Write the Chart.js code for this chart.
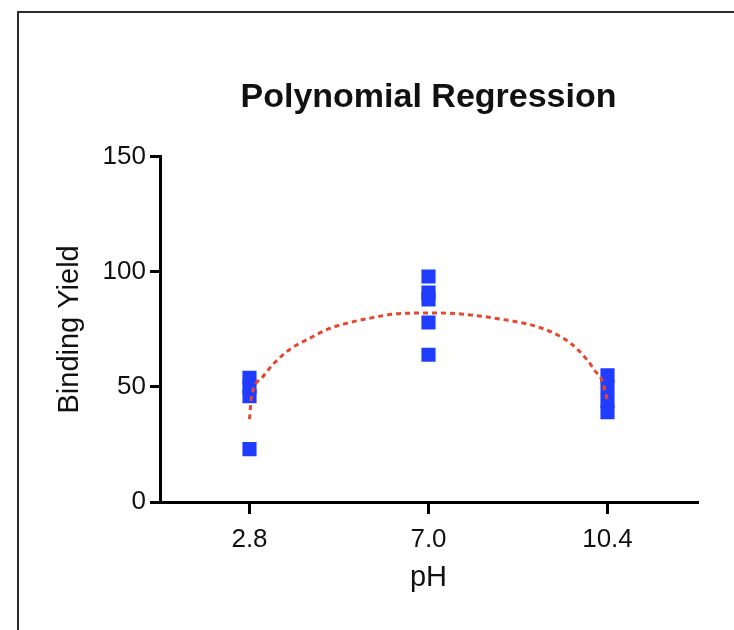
<!DOCTYPE html>
<html>
<head>
<meta charset="utf-8">
<script src="https://cdn.jsdelivr.net/npm/chart.js@4"></script>
<style>
  html, body { margin: 0; padding: 0; background: #fff; overflow: hidden; }
  #wrap { position: relative; width: 734px; height: 630px; }
  #frame {
    position: absolute; left: 17px; top: 11px; width: 800px; height: 700px;
    border: 2px solid #2b2b2b; pointer-events: none;
  }
</style>
</head>
<body>
<div id="wrap">
  <canvas id="myChart" width="734" height="630"></canvas>
  <div id="frame"></div>
</div>
<script>
// pH groups, plotted at evenly spaced positions 1..3
let phLabels = ["2.8", "7.0", "10.4"];
let yield28 = [54, 50, 46, 23];
let yield70 = [98, 91, 88, 78, 64];
let yield104 = [55, 50, 44, 39];

// fitted curve, sampled along the group positions
let fitX = [1.0, 1.01, 1.07, 1.14, 1.23, 1.33, 1.44, 1.55, 1.68, 1.81, 1.96, 2.07, 2.18, 2.40, 2.63, 2.79, 2.89, 2.93, 2.97, 3.0];
let fitY = [36, 45, 54, 60.5, 66.6, 70.9, 75.2, 77.8, 80.0, 81.7, 82.1, 82.1, 81.7, 79.5, 75.6, 69.2, 61.4, 57, 52.7, 44];

let yTicks = [0, 50, 100, 150];

let fontFam = "Arial, 'Liberation Sans', Helvetica, sans-serif";
let ink = "#111";

let points = [];
[yield28, yield70, yield104].forEach((grp, i) => {
    grp.forEach((v) => points.push({ x: i + 1, y: v }));
});
let curve = fitX.map((x, i) => ({ x: x, y: fitY[i] }));

let ctx = document.querySelector("#myChart");
let config = {
    type: "scatter",
    data: {
        datasets: [
            {
                label: "Fit",
                type: "line",
                data: curve,
                borderColor: "#e8462e",
                borderWidth: 3,
                borderDash: [5, 4],
                pointRadius: 0,
                fill: false,
                cubicInterpolationMode: "monotone",
                order: 1
            },
            {
                label: "Binding Yield",
                data: points,
                pointStyle: "rect",
                pointRadius: 10,
                pointHoverRadius: 10,
                backgroundColor: "#1f3cff",
                borderWidth: 0,
                order: 2
            }
        ]
    },
    options: {
        responsive: false,
        animation: false,
        layout: { padding: { left: 0, right: 37, top: 0, bottom: 0 } },
        plugins: {
            legend: { display: false },
            tooltip: { enabled: false },
            title: {
                display: true,
                fullSize: false,
                text: "Polynomial Regression",
                color: ink,
                font: { family: fontFam, size: 34, weight: "bold", lineHeight: 1.2 },
                padding: { top: 77, bottom: 39 }
            }
        },
        scales: {
            x: {
                type: "linear",
                min: 0.5,
                max: 3.5,
                afterBuildTicks: (s) => { s.ticks = phLabels.map((_, i) => ({ value: i + 1 })); },
                afterFit: (s) => { s.height = 128; },
                ticks: {
                    color: ink,
                    padding: 10,
                    font: { family: fontFam, size: 26 },
                    callback: (v) => phLabels[v - 1]
                },
                grid: { drawOnChartArea: false, tickLength: 12, lineWidth: 3, color: "#000" },
                border: { display: true, color: "#000", width: 3 },
                title: {
                    display: true,
                    text: "pH",
                    color: ink,
                    font: { family: fontFam, size: 29 },
                    padding: { top: 0, bottom: 35 }
                }
            },
            y: {
                min: 0,
                max: 150,
                afterBuildTicks: (s) => { s.ticks = yTicks.map((v) => ({ value: v })); },
                afterFit: (s) => { s.width = 160; },
                ticks: {
                    color: ink,
                    padding: 4,
                    font: { family: fontFam, size: 26 }
                },
                grid: { drawOnChartArea: false, tickLength: 10, lineWidth: 3, color: "#000" },
                border: { display: true, color: "#000", width: 3 },
                title: {
                    display: true,
                    text: "Binding Yield",
                    color: ink,
                    font: { family: fontFam, size: 29 },
                    padding: { top: 53, bottom: 0 }
                }
            }
        }
    }
};
let myChart = new Chart(ctx, config);
</script>
</body>
</html>
